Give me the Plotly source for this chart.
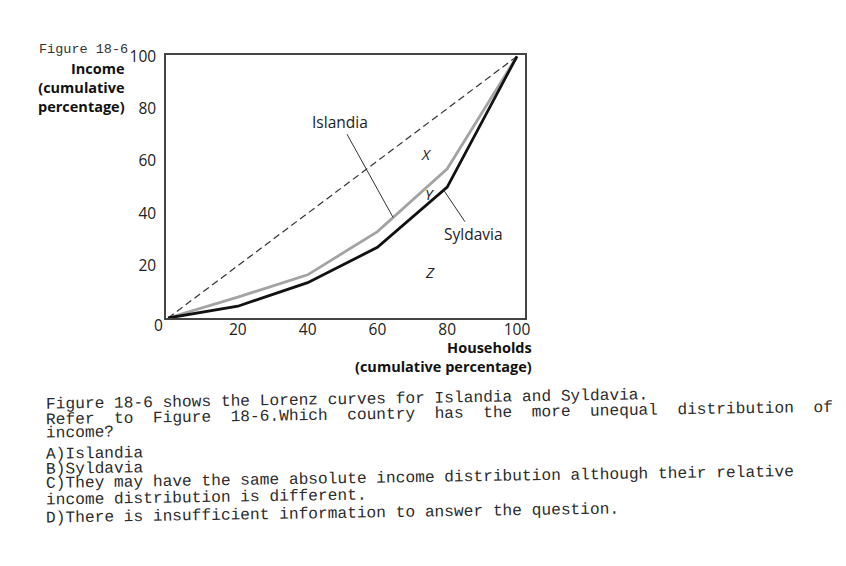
import numpy as np
import plotly.graph_objects as go

# Lorenz curves
households = [0, 20, 40, 60, 80, 100]
islandia = [0, 8, 16.5, 33, 57, 100]
syldavia = [0, 4.5, 13.5, 27, 50, 100]
equality = [0, 100]

x_ticks = [20, 40, 60, 80, 100]
y_ticks = [20, 40, 60, 80, 100]

question = [
    "Figure 18-6 shows the Lorenz curves for Islandia and Syldavia.",
    "Refer  to  Figure  18-6.Which  country  has  the  more  unequal  distribution  of",
    "income?",
    "A)Islandia",
    "B)Syldavia",
    "C)They may have the same absolute income distribution although their relative",
    "income distribution is different.",
    "D)There is insufficient information to answer the question.",
]
question_y = [400, 414, 433, 454, 469, 478, 498, 514]

# page is drawn 8px in from the corner, so work in page pixels and shift
OFF = 8
W, H = 846 - OFF, 566 - OFF
L, R, T, B = 166 - OFF, 525 - OFF, 55 - OFF, 318 - OFF


def paper(px, py):
    # page pixel -> paper coords
    px, py = px - OFF, py - OFF
    return (px - L) / (R - L), (B - py) / (B - T)


sans = "Open Sans"
mono = "Liberation Mono"

fig = go.Figure()

fig.add_trace(go.Scatter(x=equality, y=equality, mode="lines",
                         line=dict(color="#333", width=1.2, dash="7px,4px"), hoverinfo="skip"))
fig.add_trace(go.Scatter(x=households, y=islandia, mode="lines", name="Islandia",
                         line=dict(color="#a3a3a3", width=2.8)))
fig.add_trace(go.Scatter(x=households, y=syldavia, mode="lines", name="Syldavia",
                         line=dict(color="#111", width=2.8)))

ann = []

# pointer labels
isl_x = 64.5
syl_x = 79
ann.append(dict(x=isl_x, y=float(np.interp(isl_x, households, islandia)), xref="x", yref="y",
                ax=49.3, ay=75, axref="x", ayref="y", text="Islandia", showarrow=True,
                arrowhead=0, arrowwidth=1, arrowcolor="#333", standoff=0,
                font=dict(family=sans, size=15.5, color="#222")))
ann.append(dict(x=syl_x, y=float(np.interp(syl_x, households, syldavia)), xref="x", yref="y",
                ax=87.5, ay=32, axref="x", ayref="y", text="Syldavia", showarrow=True,
                arrowhead=0, arrowwidth=1, arrowcolor="#333", standoff=0,
                font=dict(family=sans, size=15.5, color="#222")))

for txt, xx, yy in [("X", 74.2, 62.5), ("Y", 75, 47.5), ("Z", 75, 17.5)]:
    ann.append(dict(x=xx, y=yy, xref="x", yref="y", text="<i>%s</i>" % txt, showarrow=False,
                    font=dict(family=sans, size=15, color="#222")))

# corner zero
x0, y0 = paper(158, 325)
ann.append(dict(x=x0, y=y0, xref="paper", yref="paper", text="0", showarrow=False,
                xanchor="center", yanchor="middle",
                font=dict(family=sans, size=15.5, color="#222")))

# axis titles
xa, ya = paper(127, 57)
ann.append(dict(x=xa, y=ya, xref="paper", yref="paper", xanchor="right", yanchor="top",
                align="right", showarrow=False,
                text="<b>Income</b><br><b>(cumulative</b><br><b>percentage)</b>",
                font=dict(family=sans, size=14.5, color="#111")))
xa, ya = paper(534, 336)
ann.append(dict(x=xa, y=ya, xref="paper", yref="paper", xanchor="right", yanchor="top",
                align="right", showarrow=False,
                text="<b>Households</b><br><b>(cumulative percentage)</b>",
                font=dict(family=sans, size=14.5, color="#111")))

# figure caption
xa, ya = paper(37, 49)
ann.append(dict(x=xa, y=ya, xref="paper", yref="paper", xanchor="left", yanchor="middle",
                text="Figure 18-6", showarrow=False,
                font=dict(family=mono, size=13.5, color="#333")))

# question text (scan is tilted a little)
for line, yy in zip(question, question_y):
    xa, ya = paper(44, yy)
    ann.append(dict(x=xa, y=ya, xref="paper", yref="paper", xanchor="left", yanchor="middle",
                    text=line.replace("  ", "&nbsp;&nbsp;"), showarrow=False, textangle=-0.9,
                    font=dict(family=mono, size=16.2, color="#2b2b2b")))

fig.update_layout(
    width=W, height=H,
    margin=dict(l=L, r=W - R, t=T, b=H - B),
    paper_bgcolor="white", plot_bgcolor="white",
    showlegend=False,
    annotations=ann,
    xaxis=dict(range=[-0.6, 102.3], tickvals=x_ticks, showgrid=False, zeroline=False,
               showline=True, mirror=True, linecolor="#444", linewidth=1.5,
               ticks="", ticklabelstandoff=-3, tickfont=dict(family=sans, size=15.5, color="#222")),
    yaxis=dict(range=[0, 100.5], tickvals=y_ticks, showgrid=False, zeroline=False,
               showline=True, mirror=True, linecolor="#444", linewidth=1.5,
               ticks="", ticklabelstandoff=5, tickfont=dict(family=sans, size=15.5, color="#222")),
)

fig.write_html("out.html")
